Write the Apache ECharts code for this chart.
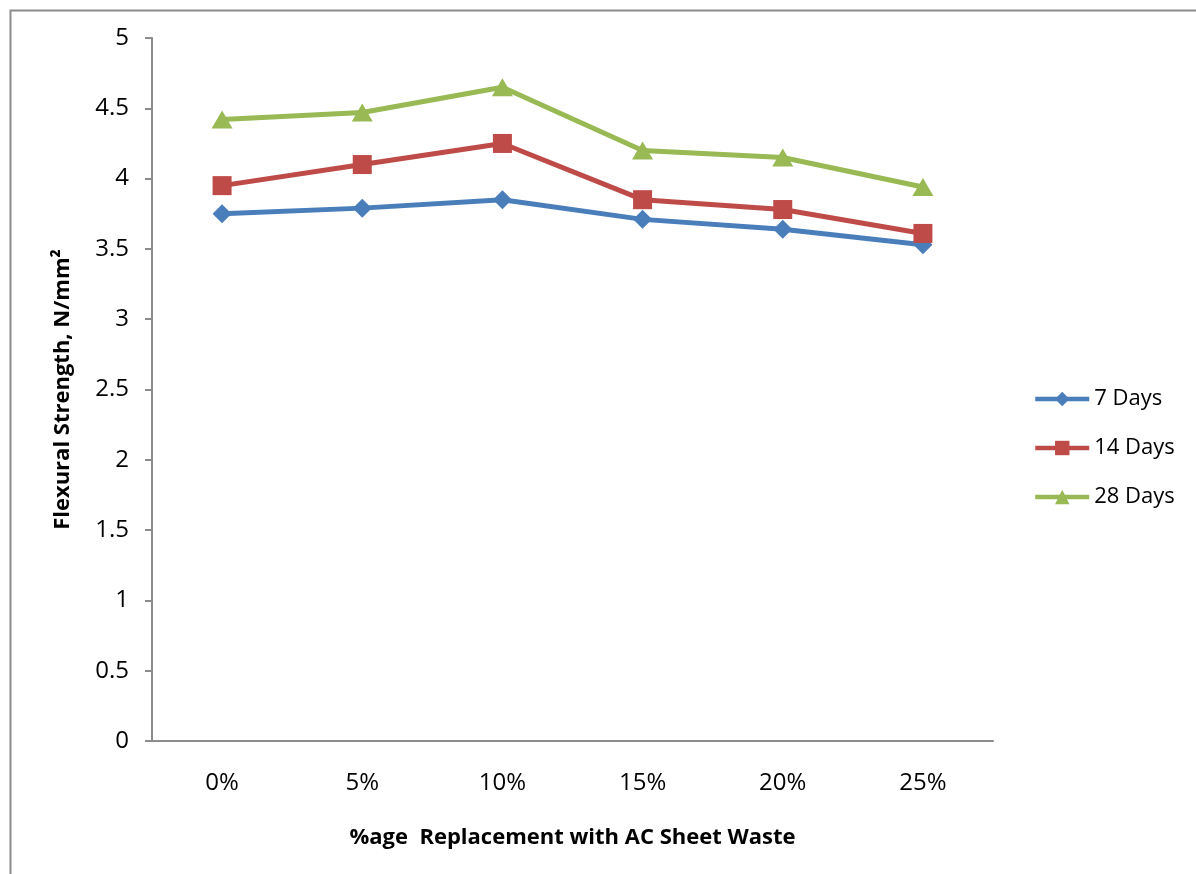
<!DOCTYPE html>
<html>
<head>
<meta charset="utf-8">
<title>Flexural Strength</title>
<script src="https://cdn.jsdelivr.net/npm/echarts@6/dist/echarts.min.js"></script>
<style>
  html, body { margin: 0; padding: 0; background: #fff; }
  #chart { width: 1196px; height: 874px; }
</style>
</head>
<body>
<div id="chart"></div>
<script>
// Replacement levels along the x axis
const categories = ['0%', '5%', '10%', '15%', '20%', '25%'];

// Flexural strength (N/mm²) at each curing age
const days7  = [3.75, 3.79, 3.85, 3.71, 3.64, 3.53];
const days14 = [3.95, 4.10, 4.25, 3.85, 3.78, 3.61];
const days28 = [4.42, 4.47, 4.65, 4.20, 4.15, 3.94];

const seriesNames = ['7 Days', '14 Days', '28 Days'];

const FONT = '"Open Sans", Lato, sans-serif';
const AXIS_GREY = '#8c8c8c';

const chart = echarts.init(document.getElementById('chart'));

function lineSeries(name, data, color, symbol, size) {
  return {
    name: name,
    type: 'line',
    data: data,
    symbol: symbol,
    symbolSize: size,
    showSymbol: true,
    lineStyle: { color: color, width: 5 },
    itemStyle: { color: color },
    emphasis: { disabled: true },
    z: 3
  };
}

chart.setOption({
  animation: false,
  backgroundColor: '#fff',
  graphic: [{
    type: 'rect',
    left: 8, top: 8,
    shape: { width: 1400, height: 1000 },
    style: { fill: 'none', stroke: AXIS_GREY, lineWidth: 2 },
    silent: true
  }],
  grid: { left: 152, right: 203, top: 38, bottom: 133 },
  legend: {
    orient: 'vertical',
    left: 1033,
    top: 388,
    padding: 0,
    itemWidth: 54,
    itemHeight: 18,
    itemGap: 27,
    lineStyle: { width: 4.5 },
    textStyle: { fontFamily: FONT, fontSize: 22, color: '#000' },
    data: seriesNames
  },
  xAxis: {
    type: 'category',
    data: categories,
    boundaryGap: true,
    name: '%age  Replacement with AC Sheet Waste',
    nameLocation: 'middle',
    nameGap: 86,
    nameTextStyle: { fontFamily: FONT, fontSize: 22, fontWeight: 'bold', color: '#000' },
    axisLine: { lineStyle: { color: AXIS_GREY, width: 2 } },
    axisTick: { show: false },
    axisLabel: { fontFamily: FONT, fontSize: 24, color: '#000', margin: 30 },
    splitLine: { show: false }
  },
  yAxis: {
    type: 'value',
    min: 0, max: 5, interval: 0.5,
    name: 'Flexural Strength, N/mm²',
    nameLocation: 'middle',
    nameGap: 78,
    nameRotate: 90,
    nameTextStyle: { fontFamily: FONT, fontSize: 22, fontWeight: 'bold', color: '#000' },
    axisLine: { show: true, lineStyle: { color: AXIS_GREY, width: 2 } },
    axisTick: { show: true, inside: false, length: 7, lineStyle: { color: AXIS_GREY, width: 2 } },
    axisLabel: { fontFamily: FONT, fontSize: 24, color: '#000', margin: 23 },
    splitLine: { show: false }
  },
  series: [
    lineSeries(seriesNames[0], days7,  '#4a7ebb', 'diamond',  [19, 19]),
    lineSeries(seriesNames[1], days14, '#be4b48', 'rect',     [19, 19]),
    lineSeries(seriesNames[2], days28, '#98b954', 'triangle', [21, 18])
  ]
});
</script>
</body>
</html>
